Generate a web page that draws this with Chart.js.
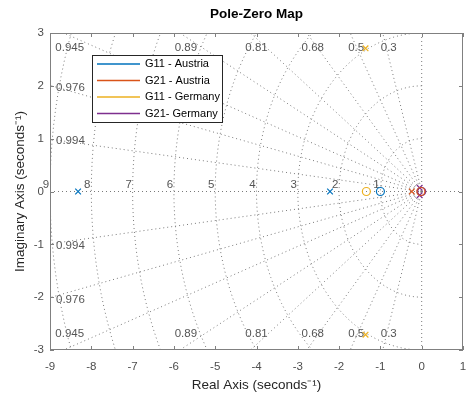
<!DOCTYPE html>
<html>
<head>
<meta charset="utf-8">
<script src="https://cdn.jsdelivr.net/npm/chart.js@4.4.1/dist/chart.umd.min.js"></script>
<style>
  html, body { margin: 0; padding: 0; background: #fff; }
  #wrap { width: 467px; height: 396px; }
</style>
</head>
<body>
<div id="wrap"><canvas id="pzChart"></canvas></div>
<script>
const seriesNames = ["G11 - Austria", "G21 - Austria", "G11 - Germany", "G21- Germany"];
const seriesColors = ["#0072BD", "#D95319", "#EDB120", "#7E2F8E"];

// poles (x) and zeros (o), as [real, imag]
const g11AustriaPoles = [[-8.32, 0], [-2.22, 0]];
const g11AustriaZeros = [[-1.0, 0]];
const g21AustriaPoles = [[-0.24, 0]];
const g21AustriaZeros = [[-0.02, 0]];
const g11GermanyPoles = [[-1.36, 2.71], [-1.36, -2.71]];
const g11GermanyZeros = [[-1.34, 0]];
const g21GermanyPoles = [[-0.05, 0.07], [-0.05, -0.07]];
const g21GermanyZeros = [[0, 0]];

// s-plane grid
const dampingValues = [0.3, 0.5, 0.68, 0.81, 0.89, 0.945, 0.976, 0.994];
const freqValues = [1, 2, 3, 4, 5, 6, 7, 8, 9];

const xMin = -9, xMax = 1, yMin = -3, yMax = 3;

const FONT = "'Liberation Sans', Arial, sans-serif";
const TEXT_GREY = "#4d4d4d";
const GRID_GREY = "#7a7a7a";

function toPts(arr) {
  return arr.map((p) => ({ x: p[0], y: p[1] }));
}

function poleSet(arr, i) {
  return {
    label: seriesNames[i] + " poles",
    data: toPts(arr),
    pointStyle: "crossRot",
    pointRadius: 4,
    borderColor: seriesColors[i],
    borderWidth: 1.2,
    showLine: false,
  };
}

function zeroSet(arr, i) {
  return {
    label: seriesNames[i] + " zeros",
    data: toPts(arr),
    pointStyle: "circle",
    pointRadius: 4,
    borderColor: seriesColors[i],
    backgroundColor: "rgba(0,0,0,0)",
    borderWidth: 1.2,
    showLine: false,
  };
}

function gridLine(points) {
  return {
    data: points,
    showLine: true,
    pointRadius: 0,
    borderColor: GRID_GREY,
    borderWidth: 1,
    borderDash: [1, 3],
    fill: false,
    tension: 0,
  };
}

const gridSets = [];
freqValues.forEach((wn) => {
  const pts = [];
  for (let a = 90; a <= 270; a += 2) {
    const r = (a * Math.PI) / 180;
    pts.push({ x: wn * Math.cos(r), y: wn * Math.sin(r) });
  }
  gridSets.push(gridLine(pts));
});
dampingValues.forEach((z) => {
  const th = Math.acos(z);
  const R = 15;
  gridSets.push(gridLine([{ x: 0, y: 0 }, { x: -R * Math.cos(th), y: R * Math.sin(th) }]));
  gridSets.push(gridLine([{ x: 0, y: 0 }, { x: -R * Math.cos(th), y: -R * Math.sin(th) }]));
});
gridSets.push(gridLine([{ x: xMin, y: 0 }, { x: xMax, y: 0 }]));
gridSets.push(gridLine([{ x: 0, y: yMin }, { x: 0, y: yMax }]));

const pzSets = [
  poleSet(g11AustriaPoles, 0), zeroSet(g11AustriaZeros, 0),
  poleSet(g21AustriaPoles, 1), zeroSet(g21AustriaZeros, 1),
  poleSet(g11GermanyPoles, 2), zeroSet(g11GermanyZeros, 2),
  poleSet(g21GermanyPoles, 3), zeroSet(g21GermanyZeros, 3),
];

const pzDecor = {
  id: "pzDecor",
  beforeDatasetsDraw(chart) {
    const { ctx, chartArea: a, scales } = chart;
    const xs = scales.x, ys = scales.y;
    ctx.save();
    ctx.font = "11.5px " + FONT;
    ctx.fillStyle = "#555";

    // damping labels
    dampingValues.forEach((z) => {
      const th = Math.acos(z);
      const xTop = -yMax / Math.tan(th);
      if (xTop >= xMin) {
        const px = xs.getPixelForValue(xTop) + 6;
        ctx.textAlign = "center";
        ctx.textBaseline = "middle";
        ctx.fillText(String(z), px, a.top + 15);
        ctx.fillText(String(z), px, a.bottom - 16);
      } else {
        const yLeft = -xMin * Math.tan(th);
        ctx.textAlign = "left";
        ctx.textBaseline = "middle";
        ctx.fillText(String(z), a.left + 6, ys.getPixelForValue(yLeft) + 2);
        ctx.fillText(String(z), a.left + 6, ys.getPixelForValue(-yLeft) + 2);
      }
    });

    // natural frequency labels
    ctx.textAlign = "center";
    ctx.textBaseline = "bottom";
    const y0 = ys.getPixelForValue(0);
    freqValues.forEach((wn) => {
      ctx.fillText(String(wn), xs.getPixelForValue(-wn) - 4, y0 - 1);
    });
    ctx.restore();
  },
  afterDraw(chart) {
    const { ctx, chartArea: a, scales } = chart;
    const xs = scales.x, ys = scales.y;
    ctx.save();

    // title
    ctx.fillStyle = "#000";
    ctx.font = "bold 13.5px " + FONT;
    ctx.textAlign = "center";
    ctx.textBaseline = "middle";
    ctx.fillText("Pole-Zero Map", (a.left + a.right) / 2, 14);

    // axes box and inward ticks
    ctx.strokeStyle = "#808080";
    ctx.lineWidth = 1;
    ctx.strokeRect(a.left + 0.5, a.top + 0.5, a.right - a.left - 1, a.bottom - a.top - 1);
    ctx.beginPath();
    for (let v = xMin; v <= xMax; v++) {
      const px = Math.round(xs.getPixelForValue(v)) + 0.5;
      ctx.moveTo(px, a.bottom); ctx.lineTo(px, a.bottom - 4);
      ctx.moveTo(px, a.top); ctx.lineTo(px, a.top + 4);
    }
    for (let v = yMin; v <= yMax; v++) {
      const py = Math.round(ys.getPixelForValue(v)) + 0.5;
      ctx.moveTo(a.left, py); ctx.lineTo(a.left + 4, py);
      ctx.moveTo(a.right, py); ctx.lineTo(a.right - 4, py);
    }
    ctx.stroke();

    // legend
    const lx = a.left + 42, ly = a.top + 22, lw = 130, lh = 67;
    ctx.fillStyle = "#fff";
    ctx.fillRect(lx, ly, lw, lh);
    ctx.strokeStyle = "#262626";
    ctx.strokeRect(lx + 0.5, ly + 0.5, lw, lh);
    ctx.font = "11px " + FONT;
    ctx.textAlign = "left";
    ctx.textBaseline = "middle";
    seriesNames.forEach((name, i) => {
      const ry = ly + 9 + i * 16.5;
      ctx.strokeStyle = seriesColors[i];
      ctx.lineWidth = 1.3;
      ctx.beginPath();
      ctx.moveTo(lx + 5, ry);
      ctx.lineTo(lx + 48, ry);
      ctx.stroke();
      ctx.fillStyle = "#000";
      ctx.fillText(name, lx + 53, ry);
    });
    ctx.restore();
  },
};

new Chart(document.getElementById("pzChart"), {
  type: "scatter",
  data: { datasets: pzSets.concat(gridSets) },
  options: {
    responsive: true,
    maintainAspectRatio: false,
    animation: false,
    events: [],
    layout: { autoPadding: false, padding: { top: 33, right: 4, left: 0, bottom: 0 } },
    plugins: {
      legend: { display: false },
      tooltip: { enabled: false },
      title: { display: false },
    },
    scales: {
      x: {
        type: "linear",
        min: xMin,
        max: xMax,
        grid: { display: false, drawTicks: false },
        border: { display: false },
        ticks: { stepSize: 1, color: TEXT_GREY, padding: 10, font: { family: FONT, size: 11.5 } },
        title: {
          display: true,
          text: "Real Axis (seconds\u207B\u00B9)",
          color: "#262626",
          font: { family: FONT, size: 13.5 },
          padding: { top: 0, bottom: 3 },
        },
        afterFit: (s) => {
          s.height = 46;
          s.paddingLeft = 0;
          s.paddingRight = 0;
        },
      },
      y: {
        type: "linear",
        min: yMin,
        max: yMax,
        grid: { display: false, drawTicks: false },
        border: { display: false },
        ticks: { stepSize: 1, color: TEXT_GREY, padding: 6, font: { family: FONT, size: 11.5 } },
        title: {
          display: true,
          text: "Imaginary Axis (seconds\u207B\u00B9)",
          color: "#262626",
          font: { family: FONT, size: 13.5 },
          padding: { top: 12, bottom: 0 },
        },
        afterFit: (s) => {
          s.width = 50;
          s.paddingTop = 0;
          s.paddingBottom = 0;
        },
      },
    },
  },
  plugins: [pzDecor],
});
</script>
</body>
</html>
